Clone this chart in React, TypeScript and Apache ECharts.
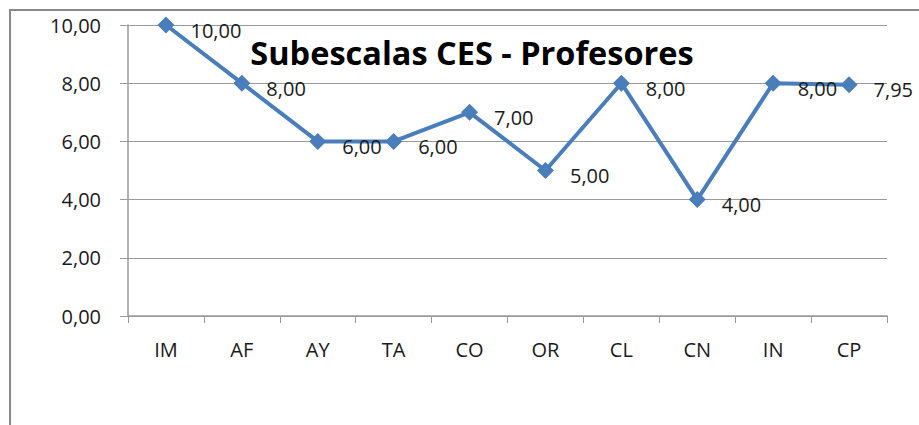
import React, { useEffect, useRef } from "react";
import * as echarts from "echarts";

const categories = ["IM", "AF", "AY", "TA", "CO", "OR", "CL", "CN", "IN", "CP"];
const values = [10, 8, 6, 6, 7, 5, 8, 4, 8, 7.95];
const yTicks = [0, 2, 4, 6, 8, 10];
const title = "Subescalas CES - Profesores";

const fmt = (v: number) => v.toFixed(2).replace(".", ",");

export default function App() {
  const ref = useRef<HTMLDivElement>(null);
  useEffect(() => {
    if (!ref.current) return;
    const chart = echarts.init(ref.current, undefined, { renderer: "svg" });
    const font = "'Open Sans', 'Noto Sans', sans-serif";
    chart.setOption({
      animation: false,
      title: {
        text: title,
        left: 472,
        top: 37,
        padding: 0,
        textAlign: "center",
        textStyle: { fontFamily: font, fontSize: 32.5, lineHeight: 30, fontWeight: "bold", color: "#000" },
      },
      graphic: [
        {
          type: "rect",
          shape: { x: 10, y: 10, width: 1200, height: 800 },
          style: { fill: "none", stroke: "#8a8a8a", lineWidth: 2 },
          silent: true,
          z: -1,
        },
      ],
      grid: { left: 128, right: 32, top: 25, bottom: 109, containLabel: false },
      xAxis: {
        type: "category",
        data: categories,
        boundaryGap: true,
        axisLine: { lineStyle: { color: "#9a9a9a", width: 1.5 } },
        axisTick: { show: true, length: 7, alignWithLabel: false, lineStyle: { color: "#9a9a9a" } },
        axisLabel: { fontFamily: font, fontSize: 20, color: "#1a1a1a", margin: 23 },
      },
      yAxis: {
        type: "value",
        min: yTicks[0],
        max: yTicks[yTicks.length - 1],
        interval: 2,
        axisLine: { show: true, lineStyle: { color: "#9a9a9a", width: 1.5 } },
        axisTick: { show: true, length: 8, lineStyle: { color: "#9a9a9a" } },
        splitLine: { show: true, lineStyle: { color: "#9a9a9a", width: 1.2 } },
        axisLabel: {
          fontFamily: font,
          fontSize: 20,
          color: "#1a1a1a",
          margin: 27,
          formatter: (v: number) => fmt(v),
        },
      },
      series: [
        {
          type: "line",
          data: values,
          symbol: "diamond",
          symbolSize: 17,
          lineStyle: { color: "#4a7ebb", width: 4 },
          itemStyle: { color: "#4a7ebb" },
          label: {
            show: true,
            position: "right",
            distance: 16,
            offset: [0, 5],
            fontFamily: font,
            fontSize: 20,
            color: "#1a1a1a",
            formatter: (p: any) => fmt(p.value),
          },
        },
      ],
    });
    return () => chart.dispose();
  }, []);
  return (
    <div
      ref={ref}
      style={{ position: "fixed", left: 0, top: 0, width: 919, height: 425, background: "#fff" }}
    />
  );
}
